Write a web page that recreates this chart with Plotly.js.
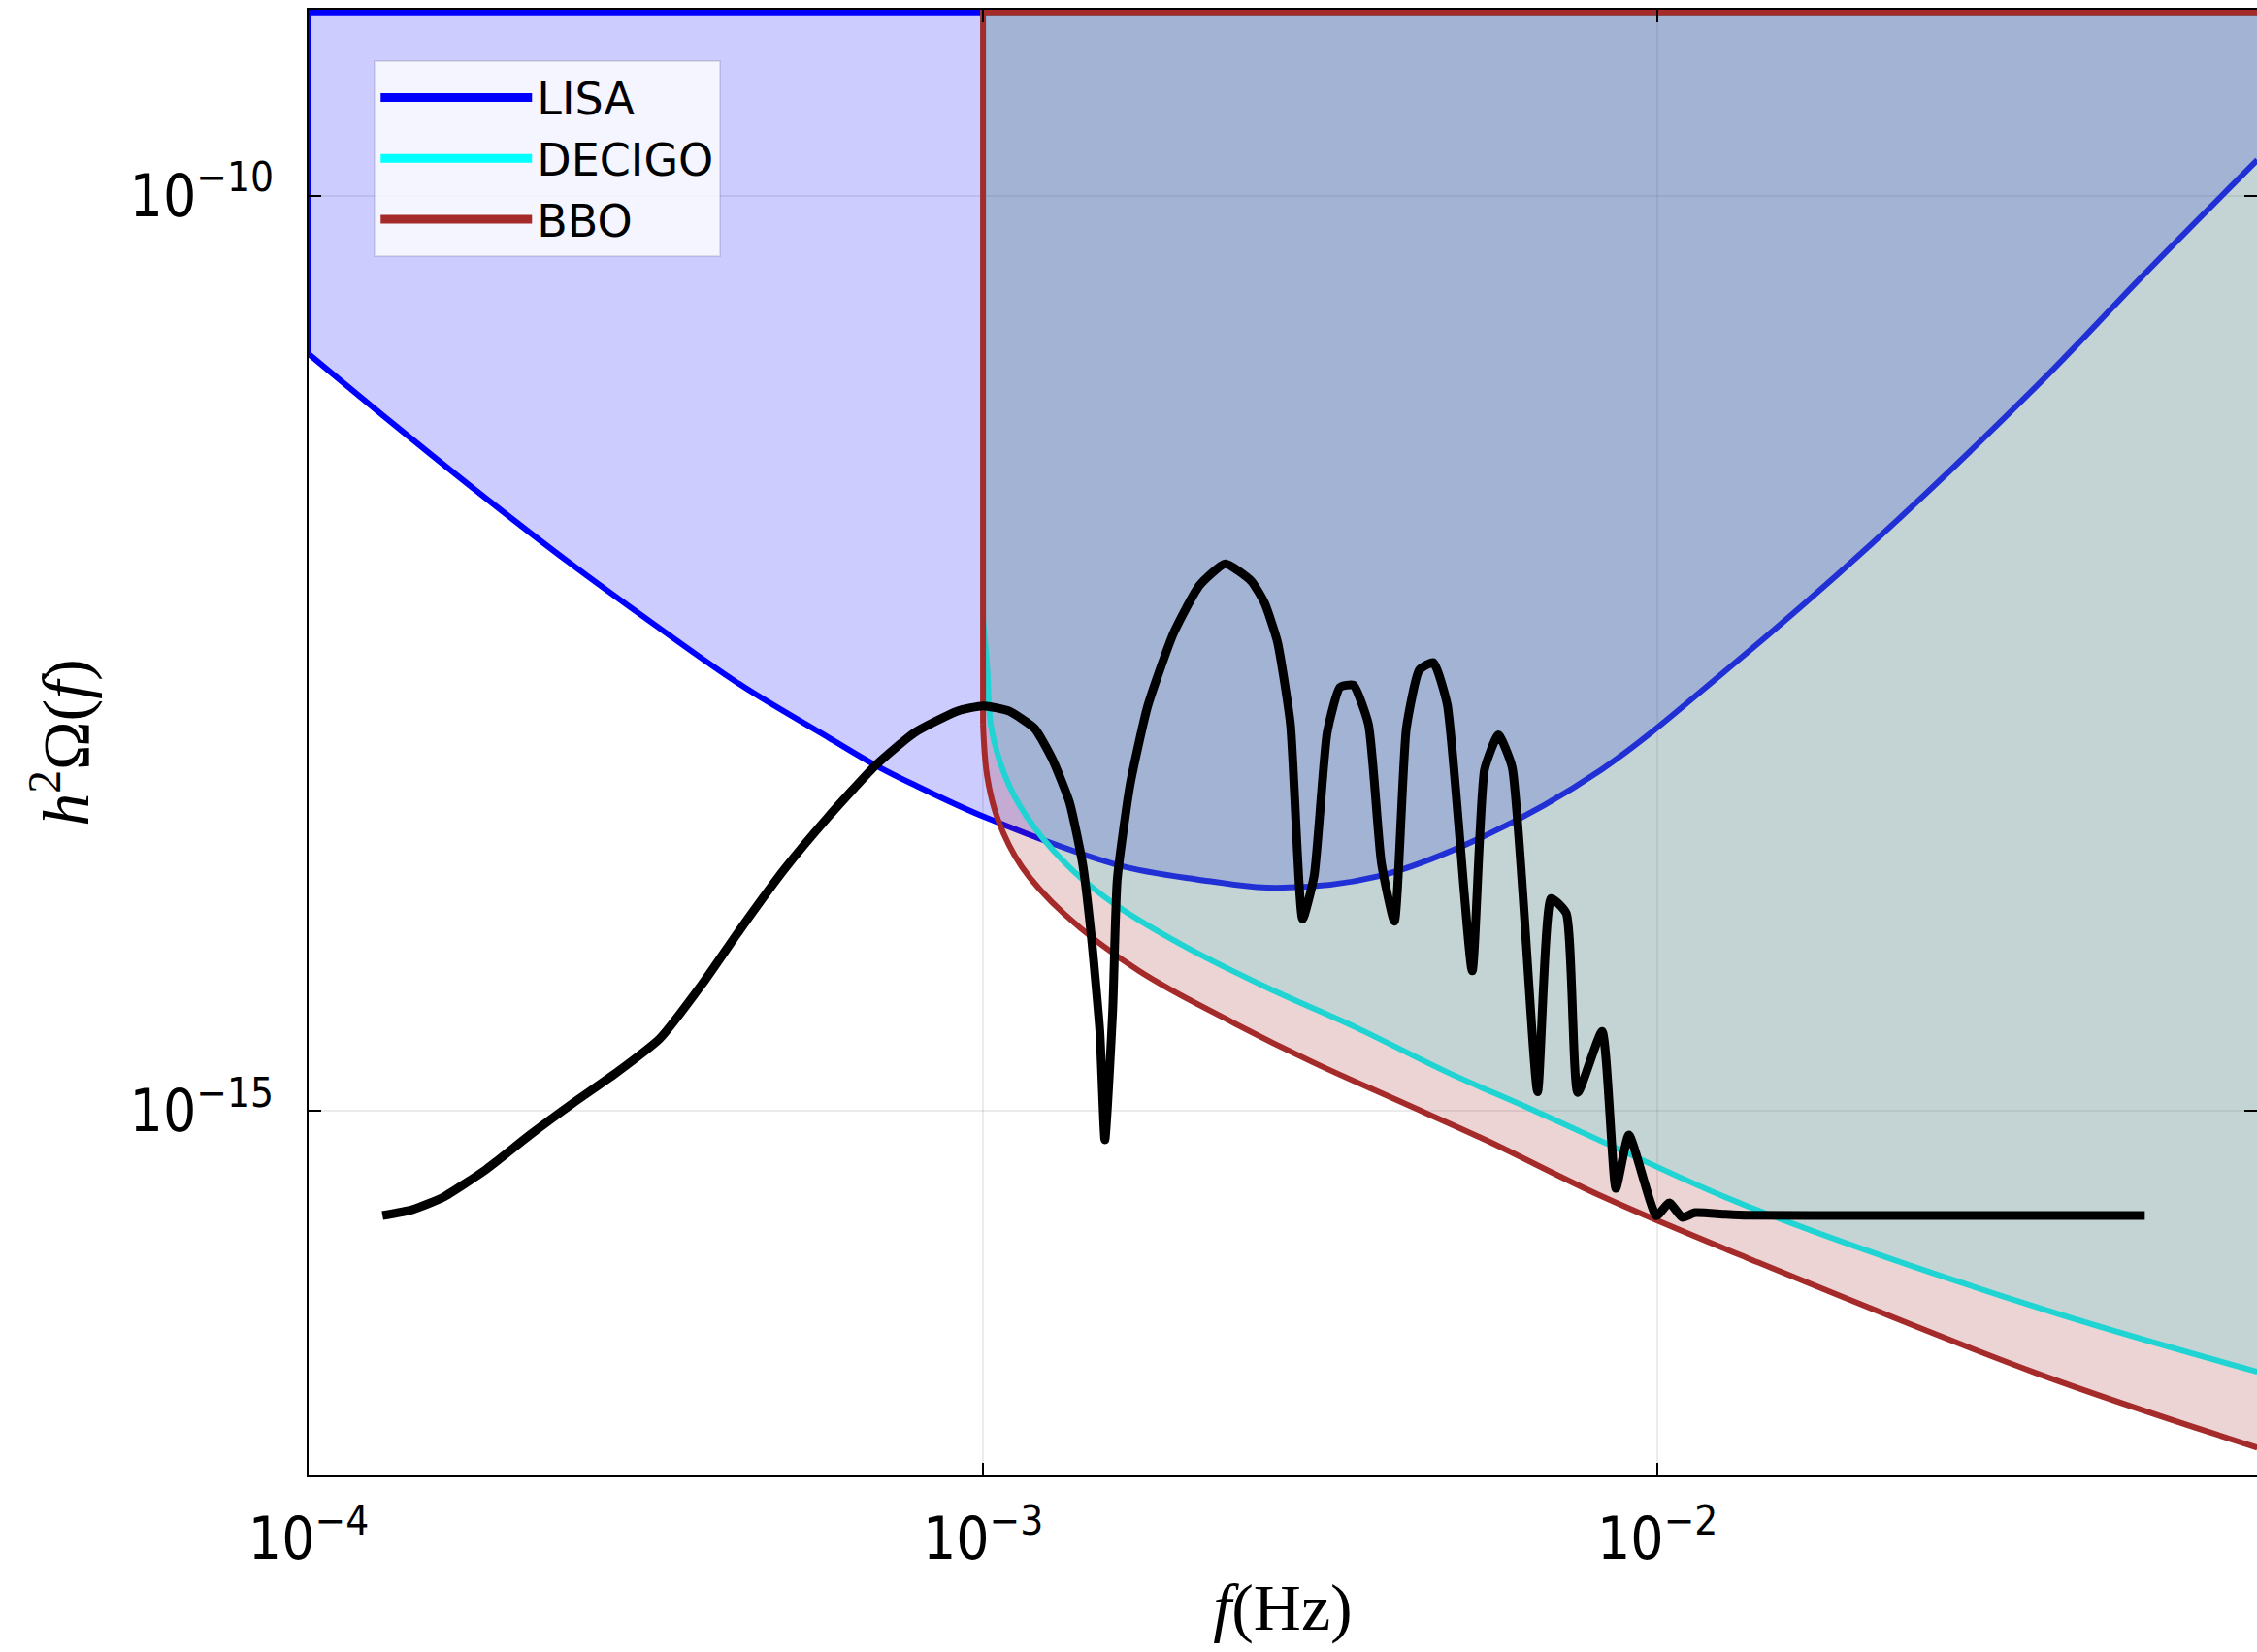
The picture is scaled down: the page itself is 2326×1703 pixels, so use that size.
<!DOCTYPE html>
<html>
<head>
<meta charset="utf-8">
<script src="https://cdn.plot.ly/plotly-3.0.1.min.js"></script>
<style>
  html, body { margin: 0; padding: 0; background: #ffffff; }
  #chart { width: 2326px; height: 1703px; }
</style>
</head>
<body>
<div id="chart"></div>
<script>
// upper edge of the detector sensitivity regions
const regionTop = 1e-9;

// LISA sensitivity curve
const lisaF = [1.000e-4, 1.343e-4, 1.803e-4, 2.424e-4, 3.257e-4, 4.378e-4, 5.885e-4, 6.924e-4, 7.910e-4,
  1.014e-3, 1.581e-3, 2.072e-3, 2.729e-3, 3.850e-3, 5.537e-3, 8.245e-3, 1.270e-2, 2.076e-2, 3.664e-2,
  5.282e-2, 7.750e-2];
const lisaOmega = [1.365e-11, 5.559e-12, 2.323e-12, 1.000e-12, 4.529e-13, 2.113e-13, 1.100e-13, 7.727e-14, 6.031e-14,
  3.971e-14, 2.205e-14, 1.839e-14, 1.651e-14, 1.908e-14, 3.167e-14, 7.280e-14, 2.585e-13, 1.248e-12, 9.243e-12,
  3.751e-11, 1.562e-10];

// DECIGO sensitivity curve
const decigoF = [1.000e-3, 1.014e-3, 1.029e-3, 1.092e-3, 1.193e-3, 1.362e-3, 1.581e-3, 1.973e-3, 2.650e-3,
  3.564e-3, 4.897e-3, 6.438e-3, 8.255e-3, 1.357e-2, 3.664e-2, 7.750e-2];
const decigoOmega = [4.871e-13, 2.642e-13, 1.224e-13, 6.031e-14, 3.504e-14, 2.036e-14, 1.314e-14, 8.058e-15, 4.666e-15,
  2.861e-15, 1.612e-15, 1.035e-15, 6.823e-16, 3.016e-16, 8.404e-17, 3.749e-17];

// BBO sensitivity curve
const bboF = [1.000e-3, 1.014e-3, 1.052e-3, 1.142e-3, 1.323e-3, 1.702e-3, 2.286e-3, 3.074e-3, 4.131e-3,
  5.556e-3, 8.255e-3, 1.357e-2, 3.664e-2, 7.750e-2];
const bboOmega = [1.299e-13, 6.736e-14, 3.905e-14, 2.146e-14, 1.178e-14, 5.808e-15, 3.191e-15, 1.850e-15, 1.133e-15,
  6.936e-16, 3.417e-16, 1.572e-16, 3.662e-17, 1.444e-17];

// GW signal spectrum (black curve)
const signalF = [1.287e-4, 1.427e-4, 1.583e-4, 1.835e-4, 2.127e-4, 2.467e-4, 2.859e-4, 3.317e-4, 3.831e-4, 4.378e-4,
  5.076e-4, 5.885e-4, 6.924e-4, 7.910e-4, 9.167e-4, 1.000e-3, 1.092e-3, 1.193e-3, 1.266e-3, 1.343e-3,
  1.404e-3, 1.445e-3, 1.490e-3, 1.516e-3, 1.557e-3, 1.581e-3, 1.652e-3, 1.753e-3, 1.916e-3, 2.093e-3,
  2.286e-3, 2.499e-3, 2.614e-3, 2.732e-3, 2.856e-3, 2.977e-3, 3.097e-3, 3.237e-3, 3.383e-3, 3.539e-3,
  3.727e-3, 3.895e-3, 4.073e-3, 4.242e-3, 4.436e-3, 4.651e-3, 4.878e-3, 5.312e-3, 5.540e-3, 5.808e-3,
  6.088e-3, 6.640e-3, 6.954e-3, 7.322e-3, 7.617e-3, 8.276e-3, 8.675e-3, 9.068e-3, 9.961e-3, 1.041e-2,
  1.088e-2, 1.137e-2, 1.256e-2, 1.357e-2, 2.076e-2, 3.394e-2, 5.277e-2];
const signalOmega = [2.677e-16, 2.888e-16, 3.368e-16, 4.794e-16, 7.362e-16, 1.102e-15, 1.612e-15, 2.480e-15, 4.908e-15, 9.944e-15,
  2.088e-14, 4.006e-14, 7.686e-14, 1.161e-13, 1.527e-13, 1.629e-13, 1.527e-13, 1.224e-13, 8.385e-14, 4.855e-14,
  2.265e-14, 9.484e-15, 2.705e-15, 6.936e-16, 3.556e-15, 1.826e-14, 6.031e-14, 1.609e-13, 4.064e-13, 7.399e-13,
  9.725e-13, 7.827e-13, 5.956e-13, 3.646e-13, 1.295e-13, 1.116e-14, 1.925e-14, 1.161e-13, 2.058e-13, 2.114e-13,
  1.295e-13, 2.265e-14, 1.084e-14, 1.226e-13, 2.561e-13, 2.809e-13, 1.656e-13, 5.808e-15, 7.307e-14, 1.130e-13,
  7.523e-14, 1.270e-15, 1.446e-14, 1.200e-14, 1.258e-15, 2.711e-15, 3.769e-16, 7.376e-16, 2.668e-16, 3.139e-16,
  2.615e-16, 2.776e-16, 2.721e-16, 2.686e-16, 2.677e-16, 2.677e-16, 2.677e-16];

// detector names and colours
const detectorNames = ['LISA', 'DECIGO', 'BBO'];
const detectorColors = ['#0000ff', '#00ffff', '#a52a2a'];
const detectorFills = ['rgba(0,0,255,0.2)', 'rgba(0,255,255,0.2)', 'rgba(165,42,42,0.2)'];

// tick labels
const xTickVals = [1e-4, 1e-3, 1e-2];
const xTickText = ['10<sup>−4</sup>', '10<sup>−3</sup>', '10<sup>−2</sup>'];
const yTickVals = [1e-15, 1e-10];
const yTickText = ['10<sup>−15</sup>', '10<sup>−10</sup>'];

const curves = [[lisaF, lisaOmega], [decigoF, decigoOmega], [bboF, bboOmega]];

const traces = [];
curves.forEach(function (c, i) {
  const f = c[0], om = c[1];
  const fEnd = f[f.length - 1];
  // shaded region: from the sensitivity curve up to the top
  traces.push({
    type: 'scatter', mode: 'lines', showlegend: false, hoverinfo: 'skip',
    x: [f[0]].concat(f, [fEnd]),
    y: [regionTop].concat(om, [regionTop]),
    fill: 'toself', fillcolor: detectorFills[i],
    line: { width: 0, color: detectorColors[i] }
  });
  // region edges: top edge and the vertical edge on the left
  traces.push({
    type: 'scatter', mode: 'lines', showlegend: false, hoverinfo: 'skip',
    x: [fEnd, f[0], f[0]],
    y: [regionTop, regionTop, om[0]],
    line: { width: 6, color: detectorColors[i] }
  });
  // the sensitivity curve itself
  traces.push({
    type: 'scatter', mode: 'lines', showlegend: false,
    name: detectorNames[i],
    x: f, y: om,
    line: { width: 6, color: detectorColors[i], shape: 'spline', smoothing: 1 }
  });
});

traces.push({
  type: 'scatter', mode: 'lines', showlegend: false, name: 'signal',
  x: signalF, y: signalOmega,
  line: { width: 9, color: '#000000', shape: 'spline', smoothing: 0.5 }
});

// legend entries
detectorNames.forEach(function (n, i) {
  traces.push({
    type: 'scatter', mode: 'lines', name: n, x: [null], y: [null],
    line: { width: 9, color: detectorColors[i] }
  });
});

const tickFont = { family: 'DejaVu Sans Condensed, DejaVu Sans, sans-serif', size: 60, color: '#000000' };
const titleFont = { family: 'Liberation Serif, serif', size: 68, color: '#000000' };

const layout = {
  width: 2326, height: 1703, autosize: false,
  margin: { l: 318, r: 0, t: 10, b: 182, pad: 0 },
  paper_bgcolor: '#ffffff', plot_bgcolor: '#ffffff',
  showlegend: true,
  legend: {
    x: 0.0335, y: 0.9656, xanchor: 'left', yanchor: 'top',
    bgcolor: 'rgba(255,255,255,0.8)', bordercolor: 'rgba(0,0,0,0.1)', borderwidth: 2,
    font: { family: 'DejaVu Sans, sans-serif', size: 46, color: '#000000' },
    itemwidth: 156, tracegroupgap: 0
  },
  xaxis: {
    type: 'log', range: [-4, -1.1112], autorange: false,
    tickvals: xTickVals, ticktext: xTickText, tickfont: tickFont,
    ticks: 'inside', ticklen: 13, tickwidth: 2, tickcolor: '#000000',
    showline: true, linecolor: '#000000', linewidth: 2, mirror: 'ticks',
    showgrid: true, gridcolor: 'rgba(0,0,0,0.08)', gridwidth: 2, zeroline: false,
    ticklabelstandoff: 12,
    title: { text: '<i>f</i>(Hz)', font: titleFont, standoff: 12 }
  },
  yaxis: {
    type: 'log', range: [-16.9924, -8.985], autorange: false,
    tickvals: yTickVals, ticktext: yTickText, tickfont: tickFont,
    ticks: 'inside', ticklen: 13, tickwidth: 2, tickcolor: '#000000',
    showline: true, linecolor: '#000000', linewidth: 2, mirror: 'ticks',
    showgrid: true, gridcolor: 'rgba(0,0,0,0.08)', gridwidth: 2, zeroline: false,
    ticklabelstandoff: 22,
    title: { text: '<i>h</i><sup>2</sup>Ω(<i>f</i>)', font: titleFont, standoff: 20 }
  }
};

Plotly.newPlot('chart', traces, layout, { displayModeBar: false, responsive: false });
</script>
</body>
</html>
